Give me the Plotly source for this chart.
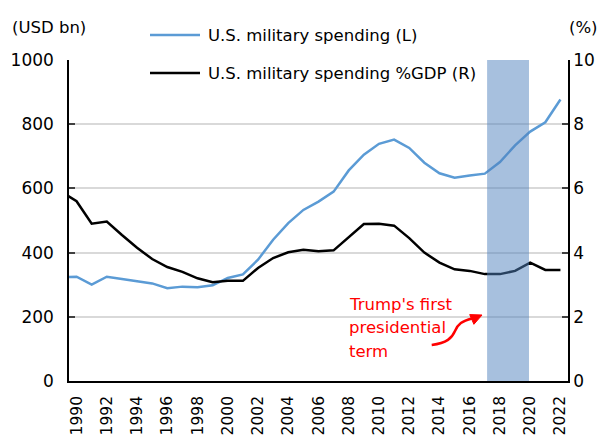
import plotly.graph_objects as go

# U.S. military spending, current USD bn (left axis) and share of GDP, % (right axis)
years = list(range(1989, 2023))
spending_usd_bn = [323, 325, 300, 325, 318, 311, 304, 289, 294, 292, 298, 321,
                   332, 378, 440, 492, 533, 559, 590, 656, 705, 739, 752, 726,
                   680, 647, 633, 640, 646, 682, 734, 777, 806, 877]
spending_pct_gdp = [5.9, 5.6, 4.9, 4.97, 4.55, 4.15, 3.8, 3.55, 3.4, 3.2, 3.08, 3.12,
                    3.12, 3.52, 3.83, 4.01, 4.09, 4.04, 4.07, 4.48, 4.89, 4.9, 4.84, 4.45,
                    4.0, 3.69, 3.48, 3.43, 3.33, 3.33, 3.43, 3.69, 3.46, 3.46]
x_tick_years = list(range(1990, 2023, 2))
left_ticks = [0, 200, 400, 600, 800, 1000]
right_ticks = [0, 2, 4, 6, 8, 10]
term_start, term_end = 2017.15, 2019.92

name_usd = "U.S. military spending (L)"
name_pct = "U.S. military spending %GDP (R)"

W, H = 608, 435
ML, MR, MT, MB = 69, 40, 60, 54
FONT = "DejaVu Sans"
TXT = 16.5
BLUE = "#5b9bd5"


def px(xp):
    return (xp - ML) / (W - ML - MR)


def py(yp):
    return (H - MB - yp) / (H - MT - MB)


fig = go.Figure()
fig.add_trace(go.Scatter(x=years, y=spending_usd_bn, mode="lines", name=name_usd,
                         line=dict(color=BLUE, width=2.5), yaxis="y"))
fig.add_trace(go.Scatter(x=years, y=spending_pct_gdp, mode="lines", name=name_pct,
                         line=dict(color="black", width=2.5), yaxis="y2"))

# shaded presidential term, drawn semi-transparent over the lines
fig.add_shape(type="rect", xref="x", yref="paper", x0=term_start, x1=term_end, y0=0, y1=1,
              fillcolor="rgb(79,129,189)", opacity=0.5, line_width=0, layer="above")

# hand-drawn legend
for yp, name, col in [(35, name_usd, BLUE), (73, name_pct, "black")]:
    fig.add_shape(type="line", xref="paper", yref="paper", x0=px(150), x1=px(200),
                  y0=py(yp), y1=py(yp), line=dict(color=col, width=2.5))
    fig.add_annotation(xref="paper", yref="paper", x=px(206), y=py(yp), text=name,
                       showarrow=False, xanchor="left", yanchor="middle",
                       font=dict(family=FONT, size=TXT, color="black"))

# axis unit labels
fig.add_annotation(xref="paper", yref="paper", x=px(49), y=py(27), text="(USD bn)",
                   showarrow=False, xanchor="center", yanchor="middle",
                   font=dict(family=FONT, size=TXT, color="black"))
fig.add_annotation(xref="paper", yref="paper", x=px(583), y=py(27), text="(%)",
                   showarrow=False, xanchor="center", yanchor="middle",
                   font=dict(family=FONT, size=TXT, color="black"))

# note on the presidential term with a curved arrow
for yp, line in [(304, "Trump's first"), (327.5, "presidential"), (351, "term")]:
    fig.add_annotation(xref="paper", yref="paper", x=px(347), y=py(yp), text=line,
                       showarrow=False, xanchor="left", yanchor="middle",
                       font=dict(family=FONT, size=TXT, color="red"))

curve = (f"M {px(431.7)},{py(345)} C {px(447)},{py(343)} {px(452)},{py(338)} {px(455)},{py(331)} "
         f"S {px(462)},{py(321)} {px(472)},{py(318.5)}")
fig.add_shape(type="path", xref="paper", yref="paper", path=curve,
              line=dict(color="red", width=2.5))
head = (f"M {px(482)},{py(315)} L {px(469.7)},{py(314.6)} L {px(473.9)},{py(324.3)} Z")
fig.add_shape(type="path", xref="paper", yref="paper", path=head,
              fillcolor="red", line=dict(color="red", width=1))

fig.update_layout(
    width=W, height=H,
    margin=dict(l=ML, r=MR, t=MT, b=MB, autoexpand=False),
    paper_bgcolor="white", plot_bgcolor="white",
    showlegend=False,
    font=dict(family=FONT, size=TXT, color="black"),
    xaxis=dict(range=[1989.5, 2022.5], tickmode="array", tickvals=x_tick_years,
               ticktext=[str(y) for y in x_tick_years], tickangle=-90,
               showgrid=False, zeroline=False, showline=True, linecolor="black",
               linewidth=1.5, ticks="", tickfont=dict(size=15.5), automargin=False,
               ticklabelstandoff=7),
    yaxis=dict(range=[0, 1000], tickmode="array", tickvals=left_ticks,
               showgrid=True, gridcolor="#d9d9d9", gridwidth=2, zeroline=False,
               showline=True, linecolor="black", linewidth=1.5,
               ticks="inside", ticklen=6, tickcolor="#404040", tickwidth=1.5,
               tickfont=dict(size=17), automargin=False, ticklabelstandoff=10),
    yaxis2=dict(range=[0, 10], tickmode="array", tickvals=right_ticks, overlaying="y",
                side="right", showgrid=False, zeroline=False,
                showline=True, linecolor="black", linewidth=1.5,
                ticks="inside", ticklen=6, tickcolor="#404040", tickwidth=1.5,
                tickfont=dict(size=17), automargin=False),
)

fig.write_html("out.html")
